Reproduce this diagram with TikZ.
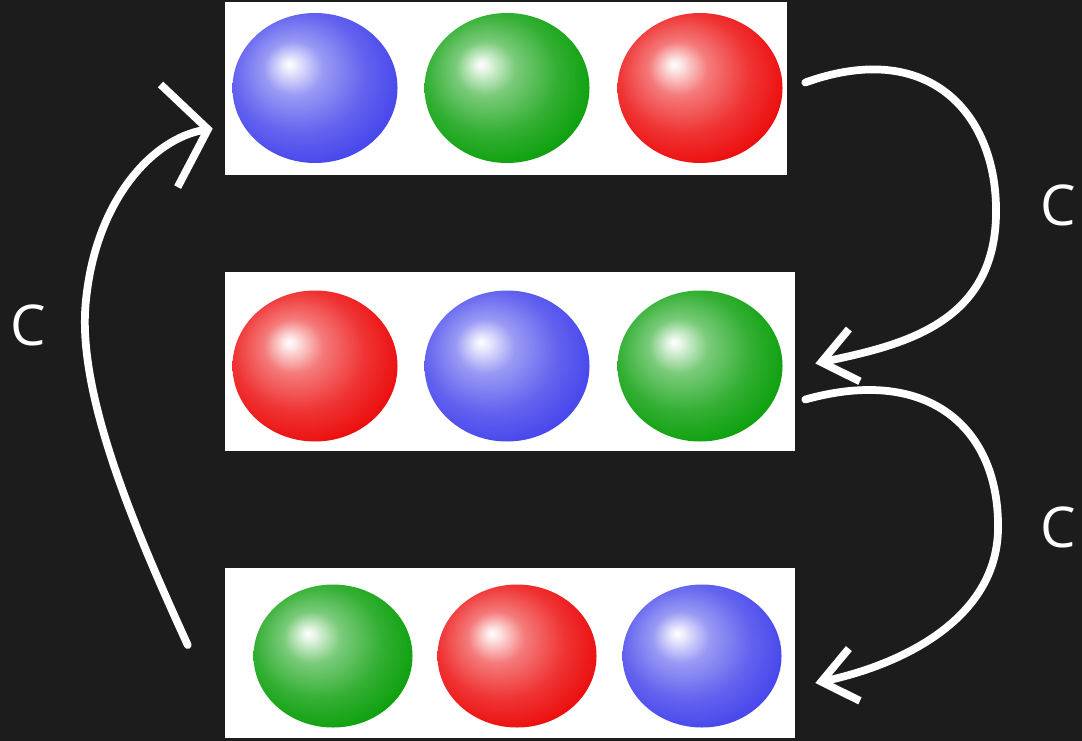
\documentclass[tikz,border=0pt]{standalone}
\usepackage{fontspec}
\usepackage{tikz}
\newfontfamily\letterfont{Open Sans}
\usetikzlibrary{shapes.geometric, arrows.meta}

\definecolor{board}{RGB}{28,28,28}
\definecolor{bblue}{RGB}{60,60,235}
\definecolor{bgreen}{RGB}{0,155,0}
\definecolor{bred}{RGB}{235,0,0}

% Glossy ball shadings, highlight up and to the left
\newcommand{\declareball}[2]{%
  \pgfdeclareradialshading{ball#1}{\pgfpoint{-8bp}{8bp}}{%
    color(0bp)=(white); color(2bp)=(white!90!#2);
    color(9bp)=(#2!52!white); color(20bp)=(#2!80!white);
    color(33bp)=(#2); color(50bp)=(#2)}}
\declareball{blue}{bblue}
\declareball{green}{bgreen}
\declareball{red}{bred}

\def\u{0.025cm}

\begin{document}
\begin{tikzpicture}[x=\u, y=-\u,
    panel/.style={fill=white, draw=none, inner sep=0pt},
    ball/.style={ellipse, inner sep=0pt, shade, shading=ball#1},
    chalk/.style={draw=white, line width=5.5pt, line cap=round, line join=round},
    letter/.style={text=white, inner sep=0pt, font=\letterfont\fontsize{40}{40}\selectfont}]
		% Chalkboard
		\fill[board] (0,0) rectangle (1082,741);
		\useasboundingbox (0,0) rectangle (1082,741);
		% White panels
		\node[panel, minimum width=562*\u, minimum height=173*\u] (row1) at (506,88.5) {};
		\node[panel, minimum width=570*\u, minimum height=179*\u] (row2) at (510,361.5) {};
		\node[panel, minimum width=570*\u, minimum height=170*\u] (row3) at (510,653) {};
		% First row: blue, green, red
		\node[ball=blue,  minimum width=165*\u, minimum height=150*\u] (ball11) at (315,88) {};
		\node[ball=green, minimum width=165*\u, minimum height=150*\u] (ball12) at (507,88) {};
		\node[ball=red,   minimum width=165*\u, minimum height=150*\u] (ball13) at (700,88) {};
		% Second row: red, blue, green
		\node[ball=red,   minimum width=165*\u, minimum height=151*\u] (ball21) at (315,366) {};
		\node[ball=blue,  minimum width=165*\u, minimum height=151*\u] (ball22) at (507,366) {};
		\node[ball=green, minimum width=165*\u, minimum height=151*\u] (ball23) at (700,366) {};
		% Third row: green, red, blue
		\node[ball=green, minimum width=159*\u, minimum height=143*\u] (ball31) at (333,656) {};
		\node[ball=red,   minimum width=159*\u, minimum height=143*\u] (ball32) at (517,656) {};
		\node[ball=blue,  minimum width=159*\u, minimum height=143*\u] (ball33) at (702,656) {};
		% Chalk arrows
		\draw[chalk, -{Straight Barb[length=24pt, width=38pt]}] ([shift={(18,-6)}]row1.east)
			.. controls +(125,-45) and +(2,-100) .. (996,215)
			.. controls +(-2,110) and +(85,-18) .. ([shift={(20,2)}]row2.east);
		\draw[chalk, -{Straight Barb[length=24pt, width=38pt]}] ([shift={(10,38)}]row2.east)
			.. controls +(125,-35) and +(2,-100) .. (998,530)
			.. controls +(-2,90) and +(85,-18) .. ([shift={(20,30)}]row3.east);
		\draw[chalk, -{Straight Barb[length=28pt, width=74pt]}] ([shift={(-37,-8)}]row3.west)
			.. controls +(-55,-120) and +(-10,90) .. (86,300)
			.. controls +(10,-100) and +(-60,10) .. ([shift={(-12,40)}]row1.west);
		% Labels
		\node[letter] (labelA) at (1058,205) {C};
		\node[letter] (labelB) at (1058,527) {C};
		\node[letter] (labelC) at (28,325) {C};
	\end{tikzpicture}
\end{document}
